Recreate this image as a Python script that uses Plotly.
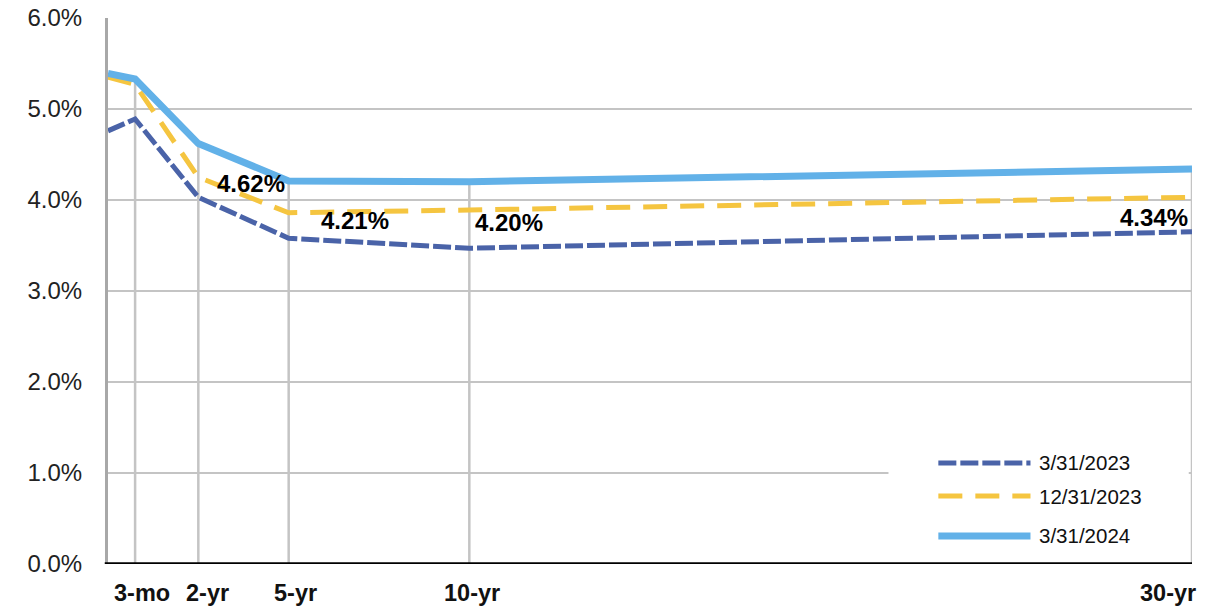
import plotly.graph_objects as go

# ---- data ----
maturity_labels = ["", "3-mo", "2-yr", "5-yr", "10-yr", "30-yr"]
maturity_pos = [0.0, 0.75, 2.5, 5.0, 10.0, 30.0]   # horizontal axis positions as drawn
series_names = ["3/31/2023", "12/31/2023", "3/31/2024"]
y_2023_03 = [4.76, 4.89, 4.03, 3.58, 3.47, 3.65]
y_2023_12 = [5.35, 5.27, 4.25, 3.86, 3.89, 4.03]
y_2024_03 = [5.39, 5.33, 4.62, 4.21, 4.20, 4.34]
labelled_idx = [2, 3, 4, 5]
y_ticks = [0, 1, 2, 3, 4, 5, 6]

# ---- styles ----
C_DARK = "#4a63a8"
C_YEL = "#f5c540"
C_LIGHT = "#62b1e8"
GRID = "#c4c4c4"
FONT = "Liberation Sans, Arial, sans-serif"

styles = [
    dict(color=C_DARK, width=5, dash="18px,4px"),
    dict(color=C_YEL, width=5, dash="24px,13px"),
    dict(color=C_LIGHT, width=7, dash="solid"),
]
all_series = [y_2023_03, y_2023_12, y_2024_03]

fig = go.Figure()

# drop lines from the latest curve to the axis
shapes = []
for i in range(1, len(maturity_pos)):
    shapes.append(dict(type="line", xref="x", yref="y",
                       x0=maturity_pos[i], x1=maturity_pos[i],
                       y0=0, y1=y_2024_03[i],
                       line=dict(color=GRID, width=2.5), layer="below"))

for name, ys, st in zip(series_names, all_series, styles):
    fig.add_trace(go.Scatter(x=maturity_pos, y=ys, mode="lines", name=name,
                             line=st, showlegend=False, hoverinfo="skip"))

annotations = []

# category labels under the axis (as placed in the original)
cat_xshift = [0, 7, 9, 7, 3, -24]
for i in range(1, len(maturity_pos)):
    annotations.append(dict(x=maturity_pos[i], y=0, xref="x", yref="y",
                            text=f"<b>{maturity_labels[i]}</b>", showarrow=False,
                            xanchor="center", yanchor="middle",
                            xshift=cat_xshift[i], yshift=-29,
                            font=dict(family=FONT, size=23.5, color="#111111")))

# data labels for latest curve
label_shift = {2: (17, -40, "left"), 3: (30, -40, "left"), 4: (4, -41, "left"), 5: (-2, -48, "right")}
for i in labelled_idx:
    xs, ys_, anchor = label_shift[i]
    annotations.append(dict(x=maturity_pos[i], y=y_2024_03[i], xref="x", yref="y",
                            text=f"<b>{y_2024_03[i]:.2f}%</b>", showarrow=False,
                            xanchor=anchor, yanchor="middle", xshift=xs, yshift=ys_,
                            font=dict(family=FONT, size=24, color="#000000")))

# custom legend (white box covering grid)
shapes.append(dict(type="rect", xref="paper", yref="paper", x0=0.72, x1=0.997,
                   y0=0.012, y1=0.222, fillcolor="white", line=dict(width=0), layer="above"))
leg_y = [0.185, 0.1245, 0.0513]
for name, st, yy in zip(series_names, styles, leg_y):
    shapes.append(dict(type="line", xref="paper", yref="paper", x0=0.766, x1=0.851,
                       y0=yy, y1=yy, line=st, layer="above"))
    annotations.append(dict(x=0.857, y=yy, xref="paper", yref="paper", text=name,
                            showarrow=False, xanchor="left", yanchor="middle",
                            font=dict(family=FONT, size=20.5, color="#111111")))

fig.update_layout(
    width=1224, height=611,
    margin=dict(l=108, r=32, t=18, b=47, autoexpand=False),
    paper_bgcolor="white", plot_bgcolor="white",
    shapes=shapes, annotations=annotations,
    showlegend=False,
    xaxis=dict(range=[0, 30], showticklabels=False,
               showgrid=False, zeroline=False, showline=False, automargin=False,
               ticks=""),
    yaxis=dict(range=[0, 6], tickvals=y_ticks, ticktext=[f"{v:.1f}%" for v in y_ticks],
               showgrid=True, gridcolor=GRID, gridwidth=2, zeroline=False,
               showline=True, linecolor="#a8a8a8", linewidth=3, automargin=False,
               ticks="", ticklabelstandoff=18,
               tickfont=dict(family=FONT, size=24, color="#222222")),
)

# black baseline axis
fig.add_shape(type="line", xref="paper", yref="y", x0=-0.003, x1=1.0, y0=0, y1=0,
              line=dict(color="#000000", width=3.5), layer="above")

fig.write_html("out.html", config={"displayModeBar": False},
               post_script="document.body.style.margin='0';document.body.style.padding='0';")
